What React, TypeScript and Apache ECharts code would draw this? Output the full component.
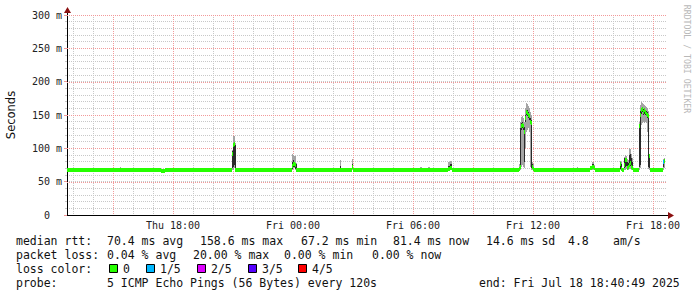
import React, { useEffect, useRef } from "react";
import * as echarts from "echarts";

// time in hours since Thu 00:00
const START_HOUR = 12.7;
const END_HOUR = 42.7;
const DATA_END = 42.6;

const sampleHours = [
  12.7, 15.35, 15.4, 17.4, 17.6, 17.65,
  20.95, 21.0, 21.05, 21.1, 21.15,
  23.95, 24.0, 24.05, 24.1, 24.15, 24.2,
  26.35, 26.4, 26.95, 27.0, 27.6, 27.65,
  30.35, 30.45, 30.75, 30.85, 31.75, 31.85, 31.95,
  35.3, 35.35, 35.4, 35.45, 35.5, 35.55, 35.6, 35.65, 35.7, 35.75, 35.8, 35.85, 35.9, 35.95, 36.0, 36.05,
  38.2, 38.25, 38.85, 38.95, 39.05, 39.1,
  40.35, 40.4, 40.45, 40.55, 40.6, 40.65, 40.7, 40.75, 40.8, 40.85, 40.9, 40.95, 41.0,
  41.3, 41.35, 41.4, 41.45, 41.5, 41.55, 41.6, 41.65, 41.7, 41.75, 41.8, 41.85,
  42.5, 42.55,
];
// ms values of the 5 sorted pings
const pingMin = [
  66.5, 67, 66.5, 66, 66.5, 66.5,
  68, 68, 70, 67, 66.5,
  68, 70, 70, 68, 67, 66.5,
  67, 66.5, 68, 66.5, 67, 66.5,
  67, 66.5, 67, 66.5, 67, 67, 66.5,
  68, 68, 72, 75, 72, 70, 100, 125, 128, 130, 125, 72, 68, 68, 67, 66.5,
  67, 66.5, 67, 68, 67, 66.5,
  68, 67, 66.5, 68, 68, 69, 68, 68, 69, 69, 68, 68, 66.5,
  68, 70, 135, 138, 140, 138, 140, 138, 125, 69, 68, 66.5,
  68, 70,
];
const pingQ1 = [
  67, 67.5, 67, 66.5, 67, 67,
  70, 72, 75, 68, 67,
  69, 72, 72, 69, 68, 67,
  68, 67, 70, 67, 67.5, 67,
  67.5, 67, 67.5, 67, 68, 68, 67,
  68, 70, 128, 130, 128, 80, 140, 150, 148, 146, 143, 136, 70, 69, 68, 67,
  67.5, 67, 68, 70, 68, 67,
  69, 68, 67, 70, 72, 73, 69, 70, 72, 73, 70, 69, 67,
  72, 75, 152, 154, 150, 152, 150, 148, 146, 72, 70, 67,
  72, 78,
];
const pingMed = [
  67.5, 68, 67.5, 66.5, 68, 67.5,
  92, 105, 106, 68, 67.5,
  74, 77, 76, 75, 68, 67.5,
  68, 67.5, 72, 67.5, 68, 67.5,
  68, 67.5, 68, 67.5, 69, 70, 67.5,
  69, 72, 134, 135, 133, 125, 145, 155, 153, 150, 148, 140, 138, 72, 69, 67.5,
  68, 67.5, 70, 72, 70, 67.5,
  77, 69, 67.5, 75, 83, 82, 71, 72, 75, 78, 72, 70, 67.5,
  133, 150, 157, 158.6, 155, 157, 154, 152, 150, 148, 88, 67.5,
  80, 81.4,
];
const pingQ3 = [
  68.5, 69.5, 68.5, 67.5, 70, 68.5,
  96, 108, 110, 105, 68.5,
  80, 82, 80, 78, 76, 68.5,
  74, 68.5, 76, 68.5, 69.5, 68.5,
  70, 68.5, 70, 68.5, 74, 76, 68.5,
  72, 130, 138, 139, 137, 132, 150, 158, 157, 154, 152, 145, 142, 76, 72, 68.5,
  69.5, 68.5, 72, 76, 72, 68.5,
  80, 76, 68.5, 85, 86, 85, 80, 78, 90, 92, 85, 80, 68.5,
  136, 156, 161, 162, 159, 160, 158, 156, 154, 152, 90, 68.5,
  82, 83,
];
const pingMax = [
  70, 72, 70, 69, 71, 70,
  98, 118, 118, 108, 70,
  92, 90, 88, 88, 78, 70,
  82, 70, 84, 70, 71, 70,
  72, 70, 72, 70, 79, 81, 70,
  77, 140, 147, 148, 145, 140, 160, 168, 166, 163, 160, 155, 150, 80, 76, 70,
  72, 70, 74, 80, 75, 70,
  81, 79, 70, 87, 90, 88, 84, 82, 100, 99, 92, 86, 70,
  140, 165, 170, 168, 166, 165, 163, 162, 160, 156, 92, 70,
  84, 85,
];
const lossLevel = sampleHours.map((_, i) => (i === sampleHours.length - 2 ? 1 : 0));

const LOSS_COLORS = ["#26ff00", "#00b8ff", "#dd00ff", "#5500ff", "#ff0000"];
const LOSS_LABELS = ["0", "1/5", "2/5", "3/5", "4/5"];

const xLabelHours = [18, 24, 30, 36, 42];
const majorHours = [15, 18, 21, 24, 27, 30, 33, 36, 39, 42];
const minorHours = [13, 14, 16, 17, 19, 20, 22, 23, 25, 26, 28, 29, 31, 32, 34, 35, 37, 38, 40, 41];
const majorMs = [50, 100, 150, 200, 250, 300];

const MONO = '"DejaVu Sans Mono", monospace';
const GRID_GRAY = "#c8c8c8";
const GRID_RED = "#f29a9a";

export default function App() {
  const ref = useRef<HTMLDivElement>(null);
  useEffect(() => {
    if (!ref.current) return;
    const chart = echarts.init(ref.current, undefined, { renderer: "svg" });
    const data = sampleHours.map((t, i) => [
      t,
      i < sampleHours.length - 1 ? sampleHours[i + 1] : DATA_END,
      pingMin[i],
      pingQ1[i],
      pingMed[i],
      pingQ3[i],
      pingMax[i],
      lossLevel[i],
    ]);
    // grid lines: [value, 0 = vertical (hour) / 1 = horizontal (ms), 0 = minor / 1 = major]
    const gridData = [
      ...minorHours.map((h) => [h, 0, 0]),
      ...majorHours.map((h) => [h, 0, 1]),
      ...majorMs.map((v) => [v, 1, 1]),
    ];
    const SW = 3;
    const L = 67, T = 15, W = 600, H = 200;
    const rows = [241, 255, 269, 283];
    const txt = (text: string, x: number, y: number, extra: any = {}) => ({
      type: "text",
      x,
      y,
      silent: true,
      style: {
        text,
        font: `11.5px ${MONO}`,
        fill: "#111",
        textVerticalAlign: "middle",
        verticalAlign: "middle",
        ...extra,
      },
    });
    const graphics: any[] = [
      txt("median rtt:", 16, rows[0]),
      txt("70.4 ms avg", 107, rows[0]),
      txt("158.6 ms max", 200, rows[0]),
      txt("67.2 ms min", 301, rows[0]),
      txt("81.4 ms now", 393, rows[0]),
      txt("14.6 ms sd", 486, rows[0]),
      txt("4.8", 568, rows[0]),
      txt("am/s", 613, rows[0]),
      txt("packet loss:", 16, rows[1]),
      txt("0.04 % avg", 107, rows[1]),
      txt("20.00 % max", 193, rows[1]),
      txt("0.00 % min", 284, rows[1]),
      txt("0.00 % now", 372, rows[1]),
      txt("loss color:", 16, rows[2]),
      txt("probe:", 16, rows[3]),
      txt("5 ICMP Echo Pings (56 Bytes) every 120s", 107, rows[3]),
      txt("end: Fri Jul 18 18:40:49 2025", 479, rows[3]),
    ];
    const boxX = [109, 146, 197, 248, 298];
    LOSS_LABELS.forEach((lab, i) => {
      graphics.push({
        type: "rect",
        silent: true,
        shape: { x: boxX[i] + 0.5, y: rows[2] - 4.5, width: 8, height: 8 },
        style: { fill: LOSS_COLORS[i], stroke: "#000", lineWidth: 1 },
      });
      graphics.push(txt(lab, boxX[i] + 14, rows[2]));
    });
    graphics.push({
      type: "text",
      x: 11,
      y: T + H / 2,
      rotation: Math.PI / 2,
      silent: true,
      style: {
        text: "Seconds",
        font: '11.5px "DejaVu Sans", sans-serif',
        fill: "#111",
        textAlign: "center",
        align: "center",
        textVerticalAlign: "middle",
        verticalAlign: "middle",
      },
    });
    graphics.push({
      type: "text",
      x: 687,
      y: 59,
      rotation: -Math.PI / 2,
      silent: true,
      style: {
        text: "RRDTOOL / TOBI OETIKER",
        font: `8.2px ${MONO}`,
        fill: "#b8b8b8",
        textAlign: "center",
        align: "center",
        textVerticalAlign: "middle",
        verticalAlign: "middle",
      },
    });
    // axis extensions and arrows
    graphics.push({ type: "line", silent: true, shape: { x1: L + 0.5, y1: T - 3, x2: L + 0.5, y2: T }, style: { stroke: "#000", lineWidth: 1 } });
    graphics.push({ type: "line", silent: true, shape: { x1: L + W, y1: T + H + 0.5, x2: L + W + 2, y2: T + H + 0.5 }, style: { stroke: "#000", lineWidth: 1 } });
    graphics.push({ type: "polygon", silent: true, shape: { points: [[L - 3, T - 2], [L + 4, T - 2], [L + 0.5, T - 8]] }, style: { fill: "#8b1010" } });
    graphics.push({ type: "polygon", silent: true, shape: { points: [[L + W + 1, T + H - 3], [L + W + 1, T + H + 4], [L + W + 7, T + H + 0.5]] }, style: { fill: "#8b1010" } });

    const dayName = (h: number) => (h < 24 ? "Thu" : h < 48 ? "Fri" : "Sat");
    const pad = (n: number) => (n < 10 ? "0" + n : "" + n);

    chart.setOption({
      animation: false,
      backgroundColor: "#ffffff",
      grid: { left: L, top: T, width: W, height: H, containLabel: false },
      xAxis: {
        type: "value",
        min: START_HOUR,
        max: END_HOUR,
        axisLine: { show: true, onZero: false, lineStyle: { color: "#000", width: 1 } },
        axisTick: { show: false },
        splitLine: { show: false },
        axisLabel: {
          customValues: xLabelHours,
          formatter: (v: number) => `${dayName(v)} ${pad(Math.round(v) % 24)}:00`,
          fontFamily: MONO,
          fontSize: 10,
          color: "#222",
          margin: 5,
        },
      },
      yAxis: [
        {
          type: "value",
          min: 0,
          max: 300,
          interval: 10,
          axisLine: { show: true, lineStyle: { color: "#000", width: 1 } },
          axisTick: { show: true, length: 2, lineStyle: { color: GRID_GRAY } },
          axisLabel: {
            formatter: (v: number) => (v % 50 !== 0 ? "" : v === 0 ? "0\u00a0\u00a0" : `${v} m`),
            fontFamily: MONO,
            fontSize: 10,
            color: "#222",
            margin: 5,
          },
          splitLine: { show: true, lineStyle: { color: GRID_GRAY, type: [1, 1], width: 1 } },
        },
        {
          type: "value",
          min: 0,
          max: 300,
          interval: 50,
          position: "left",
          axisLine: { show: false },
          axisTick: { show: true, length: 3, lineStyle: { color: GRID_RED } },
          axisLabel: { show: false },
          splitLine: { show: false },
        },
      ],
      series: [
        {
          type: "custom",
          z: 1,
          silent: true,
          clip: false,
          encode: { x: 0 },
          data: gridData,
          renderItem: (params: any, api: any) => {
            const v = api.value(0);
            const horiz = api.value(1) === 1;
            const color = api.value(2) === 1 ? GRID_RED : GRID_GRAY;
            let shape;
            if (horiz) {
              const y = Math.round(api.coord([START_HOUR, v])[1]) + 0.5;
              shape = { x1: api.coord([START_HOUR, v])[0], y1: y, x2: api.coord([END_HOUR, v])[0], y2: y };
            } else {
              const x = Math.round(api.coord([v, 0])[0]) + 0.5;
              shape = { x1: x, y1: api.coord([v, 300])[1], x2: x, y2: api.coord([v, 0])[1] };
            }
            return {
              type: "line",
              shape,
              style: { stroke: color, lineWidth: 1, lineDash: [1, 1] },
            };
          },
        },
        {
          type: "custom",
          z: 3,
          silent: true,
          clip: true,
          encode: { x: [0, 1], y: [2, 6] },
          data,
          renderItem: (params: any, api: any) => {
            const t0 = api.value(0);
            const t1 = api.value(1);
            const x0 = Math.round(api.coord([t0, 0])[0]);
            const x1 = Math.round(api.coord([t1, 0])[0]);
            const w = Math.max(1, x1 - x0);
            const Y = (v: number) => Math.round(api.coord([t0, v])[1]);
            const rect = (a: number, b: number, fill: string) => ({
              type: "rect",
              shape: { x: x0, y: Y(b), width: w, height: Math.max(1, Y(a) - Y(b)) },
              style: { fill },
            });
            const med = api.value(4);
            return {
              type: "group",
              children: [
                rect(api.value(2), api.value(6), "#a4a4a4"),
                rect(api.value(3), api.value(5), "#2a2a2a"),
                rect(med - SW, med + SW, LOSS_COLORS[api.value(7)]),
              ],
            };
          },
        },
      ],
      graphic: graphics,
    });
    return () => chart.dispose();
  }, []);
  return (
    <div
      ref={ref}
      style={{ position: "fixed", left: 0, top: 0, width: 697, height: 297, background: "#fff" }}
    />
  );
}
